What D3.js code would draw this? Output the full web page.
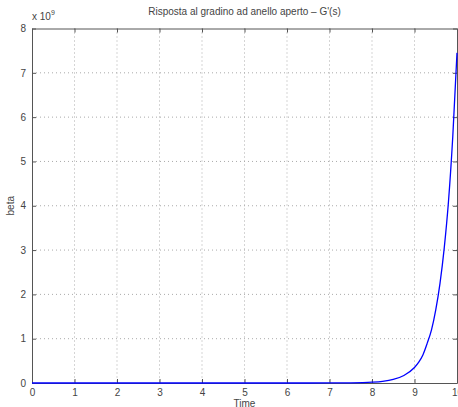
<!DOCTYPE html>
<html><head><meta charset="utf-8">
<script src="https://cdn.jsdelivr.net/npm/d3@7"></script>
<style>body{margin:0;background:#fff}svg{display:block;font-family:"Liberation Sans",Arial,sans-serif}</style>
</head><body><svg id="c" width="458" height="407"></svg>
<script>
const timeVals = [0, 1, 2, 3, 4, 5, 6, 7, 7.5, 8, 8.25, 8.5, 8.75, 9, 9.1, 9.2, 9.3, 9.4, 9.5, 9.6, 9.7, 9.8, 9.9, 10];
const betaVals = [0, 0, 0, 0, 0, 0, 0, 0.001, 0.004, 0.018, 0.037, 0.08, 0.17, 0.35, 0.47, 0.64, 0.9, 1.2, 1.65, 2.25, 3.05, 4.1, 5.55, 7.45]; // x 1e9
const xTicks = [0,1,2,3,4,5,6,7,8,9,10];
const yTicks = [0,1,2,3,4,5,6,7,8];
const titleText = "Risposta al gradino ad anello aperto \u2013 G'(s)";
const xLabel = "Time", yLabel = "beta";

const svg = d3.select("#c");
const L = 32, R = 457, T = 28.5, B = 383;
const x = d3.scaleLinear().domain([0,10]).range([L,R]);
const y = d3.scaleLinear().domain([0,8]).range([B,T]);
const axisCol = "#555", textCol = "#444";

// grid
const g = svg.append("g");
g.selectAll(".gx").data(xTicks.slice(1,-1)).join("line")
 .attr("x1",d=>x(d)).attr("x2",d=>x(d)).attr("y1",T).attr("y2",B)
 .attr("stroke","#aaa").attr("stroke-width",1).attr("stroke-dasharray","1,3");
g.selectAll(".gy").data(yTicks.slice(1,-1)).join("line")
 .attr("y1",d=>y(d)).attr("y2",d=>y(d)).attr("x1",L).attr("x2",R)
 .attr("stroke","#aaa").attr("stroke-width",1).attr("stroke-dasharray","1,3");

// axes
const tl = -4;
const mk = (axis, tr) => svg.append("g").attr("transform",tr).call(axis)
  .call(s=>{s.select(".domain").attr("stroke",axisCol);s.selectAll(".tick line").attr("stroke",axisCol);
  s.selectAll("text").attr("fill",textCol).attr("font-size",10).attr("font-family","Liberation Sans, Arial, sans-serif");});
mk(d3.axisBottom(x).tickValues(xTicks).tickSizeInner(tl).tickSizeOuter(0).tickPadding(6), `translate(0,${B})`);
mk(d3.axisTop(x).tickValues(xTicks).tickSizeInner(tl).tickSizeOuter(0).tickFormat(""), `translate(0,${T})`);
mk(d3.axisLeft(y).tickValues(yTicks).tickSizeInner(tl).tickSizeOuter(0).tickPadding(6), `translate(${L},0)`);
mk(d3.axisRight(y).tickValues(yTicks).tickSizeInner(tl).tickSizeOuter(0).tickFormat(""), `translate(${R},0)`);

// line
svg.append("path").datum(timeVals.map((t,i)=>[t,betaVals[i]]))
 .attr("d", d3.line().x(d=>x(d[0])).y(d=>y(d[1])).curve(d3.curveMonotoneX))
 .attr("fill","none").attr("stroke","#0000ff").attr("stroke-width",1.3);

// texts
svg.append("text").attr("x",(L+R)/2).attr("y",15).attr("text-anchor","middle")
 .attr("font-size",10).attr("fill",textCol).text(titleText);
svg.append("text").attr("x",(L+R)/2).attr("y",406.5).attr("text-anchor","middle")
 .attr("font-size",10).attr("fill",textCol).text(xLabel);
svg.append("text").attr("transform",`translate(14,${(T+B)/2}) rotate(-90)`).attr("text-anchor","middle")
 .attr("font-size",10).attr("fill",textCol).text(yLabel);
const ex = svg.append("text").attr("x",32).attr("y",20).attr("font-size",10).attr("fill",textCol);
ex.append("tspan").text("x 10");
ex.append("tspan").attr("font-size",7).attr("dy",-5).text("9");
</script></body></html>
